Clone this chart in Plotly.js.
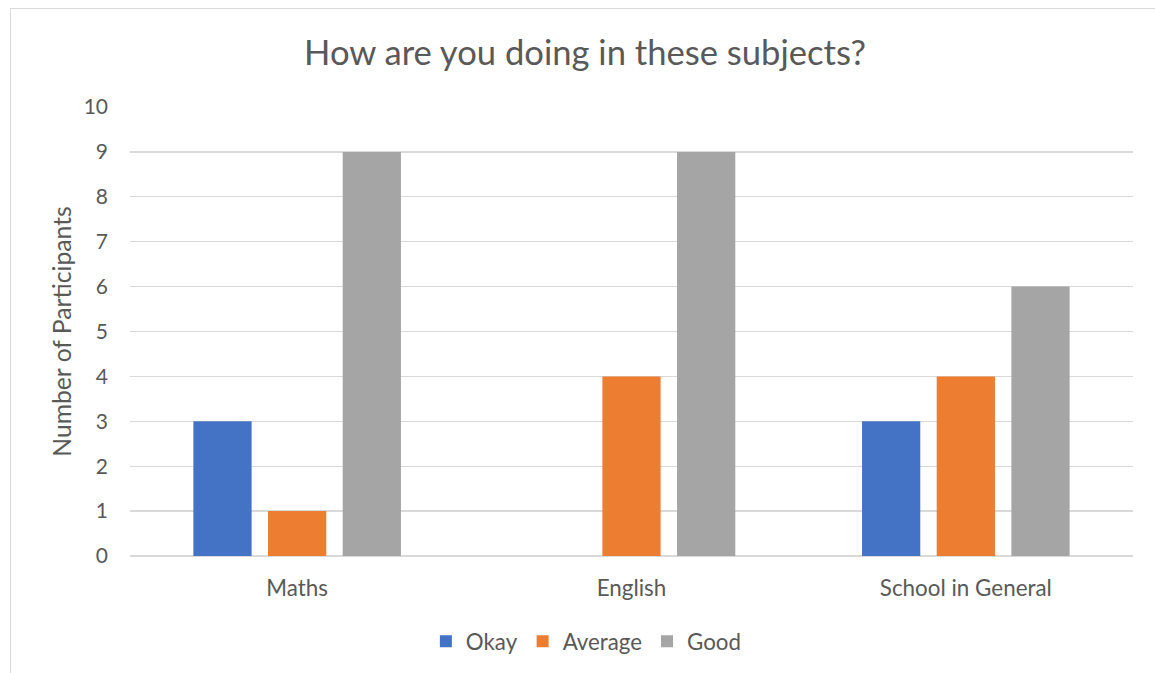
<!DOCTYPE html>
<html><head><meta charset="utf-8">
<script src="https://cdn.plot.ly/plotly-3.0.1.min.js"></script>
<style>
html,body{margin:0;padding:0;background:#fff;}
#frame{position:absolute;left:10px;top:8px;width:1160px;height:680px;border:1px solid #d9d9d9;box-sizing:border-box;}
#chart{position:absolute;left:0;top:0;width:1155px;height:673px;}
</style></head>
<body>
<div id="frame"></div>
<div id="chart"></div>
<script>
const categories = ["Maths", "English", "School in General"];
const okay = [3, 0, 3];
const average = [1, 4, 4];
const good = [9, 9, 6];
const seriesNames = ["Okay", "Average", "Good"];
const colors = ["#4472c4", "#ed7d31", "#a5a5a5"];
const yTicks = [0,1,2,3,4,5,6,7,8,9,10];

const font = "Lato";
const txt = "#595959";
const data = [okay, average, good].map((vals, i) => ({
  type: "bar", x: categories, y: vals, name: seriesNames[i],
  marker: {color: colors[i], line: {width: 0}},
  hoverinfo: "x+y+name"
}));

const layout = {
  width: 1155, height: 673,
  margin: {l: 130, r: 22, t: 107, b: 116},
  paper_bgcolor: "rgba(0,0,0,0)", plot_bgcolor: "rgba(0,0,0,0)",
  font: {family: font, color: txt, size: 22},
  title: {text: "How are you doing in these subjects?", font: {size: 34.6, color: txt, family: font},
          xref: "container", x: 0.5065, xanchor: "center", yref: "container", y: 0.921, yanchor: "middle"},
  barmode: "group", bargap: 0.33, bargroupgap: 0.22,
  xaxis: {showgrid: false, showline: false, zeroline: false, ticks: "", ticklabelstandoff: 17, automargin: false,
          tickfont: {size: 22.4, color: txt, family: font}},
  yaxis: {range: [0, 10], tickvals: yTicks, ticktext: yTicks.map(String), automargin: false,
          showgrid: true, gridcolor: "#d9d9d9", gridwidth: 1.3, zeroline: true, zerolinecolor: "#d9d9d9", zerolinewidth: 1.3,
          showline: false, ticks: "", ticklabelstandoff: 21,
          tickfont: {size: 21, color: txt, family: font},
          title: {text: "Number of Participants", font: {size: 24.7, color: txt, family: font}, standoff: 4}},
  legend: {orientation: "h", x: 0.455, xanchor: "center", y: -0.187, yanchor: "middle",
           font: {size: 22.3, color: txt, family: font}, itemwidth: 30, traceorder: "normal"},
  showlegend: true
};
Plotly.newPlot("chart", data, layout, {displayModeBar: false, staticPlot: true});
</script>
</body></html>
